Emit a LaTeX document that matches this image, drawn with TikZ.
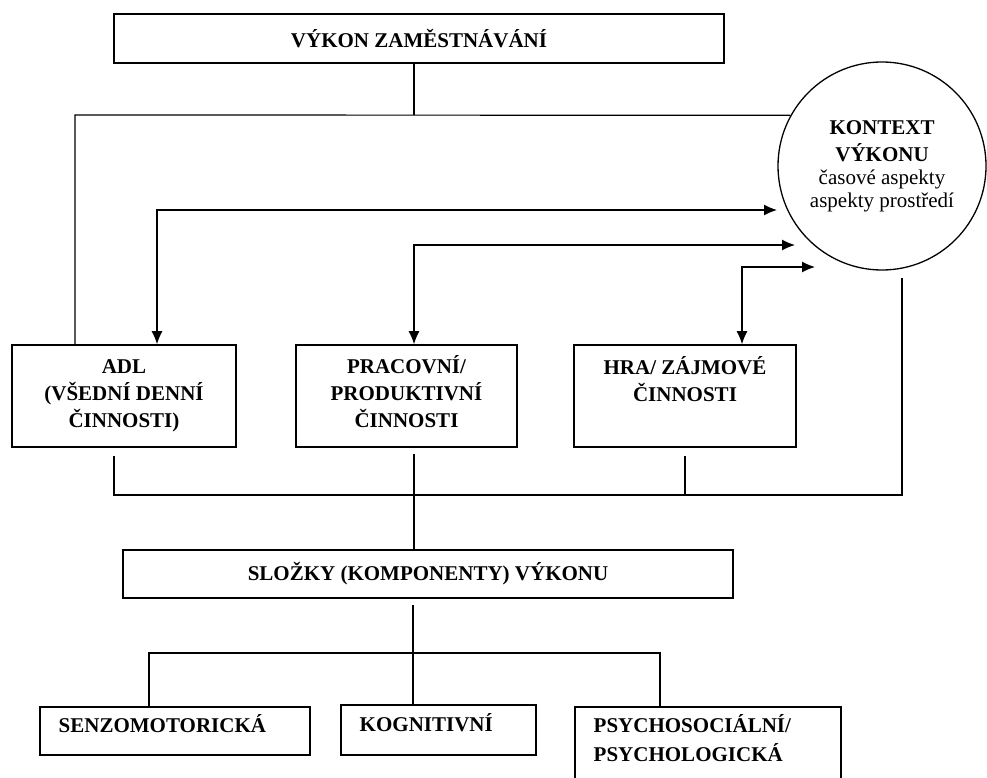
\documentclass[tikz,border=0pt]{standalone}
\usepackage{fontspec}
\setmainfont{Liberation Serif}
\usetikzlibrary{arrows.meta}
\tikzset{box/.style={draw, line width=1.6pt, inner sep=0pt},
            link/.style={line width=1.2pt},
            both/.style={link, {Latex[length=13pt,width=11pt]}-{Latex[length=13pt,width=11pt]}},
            lbl/.style={font=\fontsize{21}{27}\selectfont\bfseries, align=center},
            actlbl/.style={lbl, anchor=base, yshift=-#1},
            complbl/.style={lbl, align=left, anchor=base west, xshift=16pt, yshift=-#1}}

\begin{document}
\begin{tikzpicture}[x=1pt,y=-1pt]
\useasboundingbox (0,0) rectangle (987,778);
\clip (0,0) rectangle (987,778);
%
\node [box, minimum width=610pt, minimum height=49pt, lbl] (vykon) at (419,38.5)
    {VÝKON ZAMĚSTNÁVÁNÍ};
\node [draw, circle, line width=1.3pt, minimum size=208pt, inner sep=0pt, lbl] (kontext) at (882,166)
    {KONTEXT\\VÝKONU\\[-4pt]{\normalfont časové aspekty}\\[-4pt]{\normalfont aspekty prostředí}};
%
\node [box, minimum width=224pt, minimum height=102pt,
    label={[actlbl=83pt]north:ADL\\(VŠEDNÍ DENNÍ\\ČINNOSTI)}] (adl) at (124,396) {};
\node [box, minimum width=221pt, minimum height=102pt,
    label={[actlbl=83pt]north:PRACOVNÍ/\\PRODUKTIVNÍ\\ČINNOSTI}] (prac) at (406.5,396) {};
\node [box, minimum width=222pt, minimum height=102pt,
    label={[actlbl=57pt]north:HRA/ ZÁJMOVÉ\\ČINNOSTI}] (hra) at (685,396) {};
%
\node [box, minimum width=610pt, minimum height=48pt, lbl] (slozky) at (428,574)
    {SLOŽKY (KOMPONENTY) VÝKONU};
%
\node [box, minimum width=270pt, minimum height=48pt,
    label={[complbl=26pt]north west:SENZOMOTORICKÁ}] (senzo) at (175,731) {};
\node [box, minimum width=195pt, minimum height=50pt,
    label={[complbl=27pt]north west:KOGNITIVNÍ}] (kog) at (438.5,730) {};
\node [box, minimum width=266pt, minimum height=95pt,
    label={[complbl=55pt]north west:PSYCHOSOCIÁLNÍ/\\[2pt]PSYCHOLOGICKÁ}] (psycho) at (708,754.5) {};
%
% junctions and free ends
\coordinate (topjoin) at (414,115);
\coordinate (leftcorner) at (75,115);
\coordinate (adlin) at (157,210);
\coordinate (tip1) at (777,210);
\coordinate (pracin) at (414,245);
\coordinate (tip2) at (795,245);
\coordinate (hrain) at (742,267);
\coordinate (tip3) at (815,267);
\coordinate (adlout) at (114,495);
\coordinate (hraout) at (685,495);
\coordinate (midjoin) at (414,495);
\coordinate (kontextout) at (902,495);
\coordinate (botjoin) at (413,653);
\coordinate (senzoin) at (149,653);
\coordinate (psychoin) at (660,653);
%
\draw [link] (vykon.south -| topjoin) -- (topjoin);
\draw [link] (kontext.151) -- (leftcorner) -- (adl.north -| leftcorner);
\draw [both] (adl.north -| adlin) -- (adlin) -- (tip1);
\draw [both] (prac.north -| pracin) -- (pracin) -- (tip2);
\draw [both] (hra.north -| hrain) -- (hrain) -- (tip3);
%
\draw [link, shorten <=8pt, shorten >=7pt] (adl.south -| adlout) -- (adlout) -- (kontextout)
    -- (kontext.south -| kontextout);
\draw [link, shorten <=8pt] (hra.south -| hraout) -- (hraout);
\draw [link, shorten <=6pt] (prac.south -| midjoin) -- (slozky.north -| midjoin);
%
\draw [link, shorten <=6pt] (slozky.south -| botjoin) -- (kog.north -| botjoin);
\draw [link] (senzo.north -| senzoin) -- (senzoin) -- (psychoin) -- (psycho.north -| psychoin);
\end{tikzpicture}
\end{document}
